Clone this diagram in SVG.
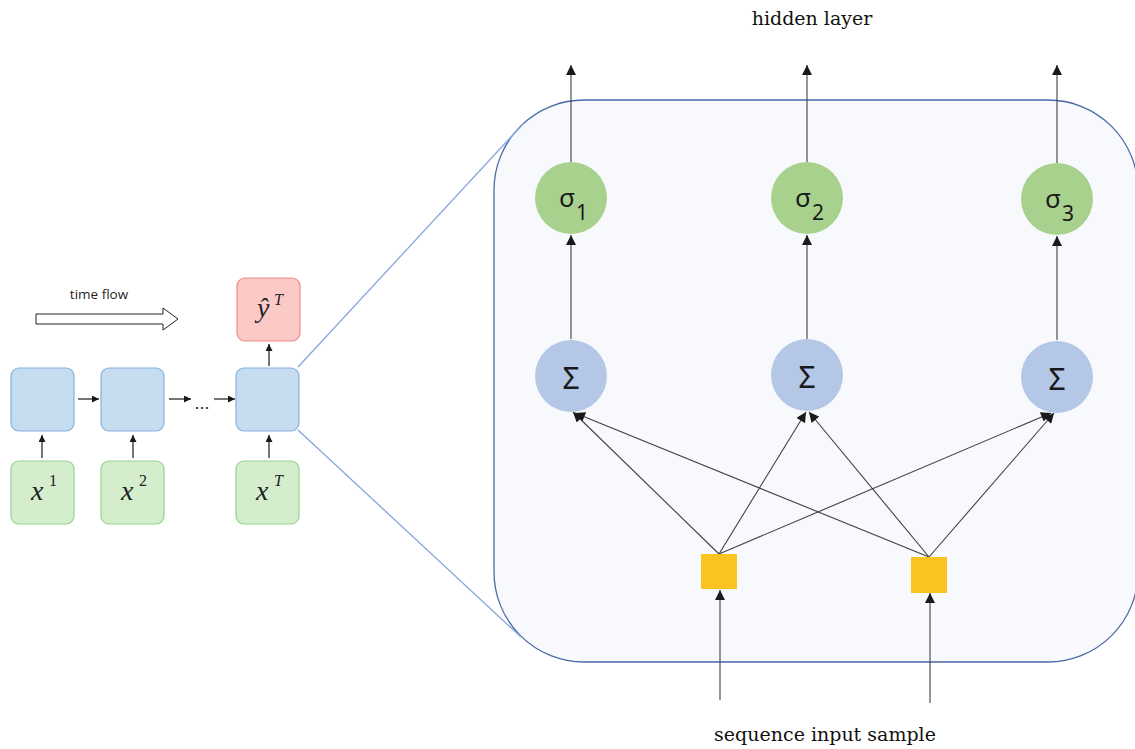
<svg xmlns="http://www.w3.org/2000/svg" width="1135" height="749" viewBox="0 0 1135 749">
  <defs>
    <marker id="ah" viewBox="0 0 10 10" refX="10" refY="5" markerWidth="11" markerHeight="10" markerUnits="userSpaceOnUse" orient="auto">
      <path d="M0,0 L10,5 L0,10 z" fill="#1a1a1a"/>
    </marker>
    <marker id="ahs" viewBox="0 0 10 10" refX="10" refY="5" markerWidth="7" markerHeight="7" markerUnits="userSpaceOnUse" orient="auto">
      <path d="M0,0 L10,5 L0,10 z" fill="#1a1a1a"/>
    </marker>
  </defs>
  <style>
    .cell { fill: #c6dcef; stroke: #86b2dd; stroke-width: 1.2; }
    .inp { fill: #d3edcd; stroke: #96d38d; stroke-width: 1.2; }
    .out { fill: #fbc9c6; stroke: #f08b85; stroke-width: 1.2; }
    .math { font-family: "Liberation Serif", "DejaVu Serif", serif; font-style: italic; fill: #222; font-size: 28px; }
    .sup { font-family: "Liberation Serif", "DejaVu Serif", serif; fill: #222; font-size: 16px; }
    .sig { fill: #a9d18e; }
    .sum { fill: #b4c7e7; }
    .lbl { font-family: "Open Sans", "DejaVu Sans", sans-serif; fill: #1f1f1f; text-anchor: middle; }
    .cap { font-family: "DejaVu Serif", "Liberation Serif", serif; fill: #111; text-anchor: middle; font-size: 19px; }
    .gk { font-family: "Noto Sans", "DejaVu Sans", sans-serif; fill: #1a1a1a; }
    .in { fill: #fac420; }
    .edge { stroke: #404040; stroke-width: 1.1; fill: none; marker-end: url(#ah); }
    .sedge { stroke: #1a1a1a; stroke-width: 1.2; fill: none; marker-end: url(#ahs); }
    .zoom { stroke: #86a6da; stroke-width: 1.3; fill: none; }
  </style>

  <!-- enlarged cell panel -->
  <g id="panel">
    <rect x="494" y="100" width="644" height="562" rx="90" ry="90" fill="#f7f9fc" stroke="#4b6aa8" stroke-width="1.3"/>
  </g>

  <!-- zoom guide lines from the last cell to the panel -->
  <g id="zoom-lines">
    <line class="zoom" x1="298" y1="367" x2="523" y2="124"/>
    <line class="zoom" x1="298" y1="430" x2="521" y2="637"/>
  </g>

  <!-- time flow hint -->
  <g id="time-flow">
    <text class="lbl" x="99" y="299" font-size="13.5">time flow</text>
    <path d="M36,314 L163,314 L163,308 L178,319 L163,330 L163,324 L36,324 z" fill="#fff" stroke="#222" stroke-width="1"/>
  </g>

  <!-- unrolled sequence -->
  <g id="cell1"><rect class="cell" x="11" y="368" width="63" height="63" rx="8"/></g>
  <g id="cell2"><rect class="cell" x="101" y="368" width="63" height="63" rx="8"/></g>
  <g id="cellT"><rect class="cell" x="236" y="368" width="63" height="63" rx="8"/></g>
  <g id="x1">
    <rect class="inp" x="11" y="461" width="63" height="63" rx="8"/>
    <text class="math" x="31" y="500">x</text><text class="sup" x="49" y="486">1</text>
  </g>
  <g id="x2">
    <rect class="inp" x="101" y="461" width="63" height="63" rx="8"/>
    <text class="math" x="121" y="500">x</text><text class="sup" x="139" y="486">2</text>
  </g>
  <g id="xT">
    <rect class="inp" x="236" y="461" width="63" height="63" rx="8"/>
    <text class="math" x="256" y="500">x</text><text class="sup" x="274" y="486" font-style="italic">T</text>
  </g>
  <g id="yT">
    <rect class="out" x="237" y="278" width="63" height="63" rx="8"/>
    <text class="math" x="257" y="317">ŷ</text>
    <text class="sup" x="274" y="305" font-style="italic">T</text>
  </g>
  <g id="dots">
    <text x="202" y="409" font-family="Liberation Sans, sans-serif" font-size="18" text-anchor="middle" fill="#222">...</text>
  </g>

  <g id="seq-connectors">
    <line class="sedge" x1="78" y1="399" x2="99" y2="399"/>
    <line class="sedge" x1="169" y1="399" x2="191" y2="399"/>
    <line class="sedge" x1="214" y1="399" x2="235" y2="399"/>
    <line class="sedge" x1="42" y1="458" x2="42" y2="435"/>
    <line class="sedge" x1="133" y1="458" x2="133" y2="435"/>
    <line class="sedge" x1="269" y1="458" x2="269" y2="435"/>
    <line class="sedge" x1="269" y1="366" x2="269" y2="344"/>
  </g>

  <!-- network connectors -->
  <g id="connectors">
    <!-- outputs -->
    <line class="edge" x1="571" y1="162" x2="571" y2="65"/>
    <line class="edge" x1="807" y1="162" x2="807" y2="65"/>
    <line class="edge" x1="1057" y1="163" x2="1057" y2="65"/>
    <!-- sum to activation -->
    <line class="edge" x1="571" y1="339" x2="571" y2="235"/>
    <line class="edge" x1="807" y1="339" x2="807" y2="235"/>
    <line class="edge" x1="1057" y1="340" x2="1057" y2="236"/>
    <!-- inputs to sums -->
    <line class="edge" x1="719" y1="554" x2="573" y2="412"/>
    <line class="edge" x1="719" y1="554" x2="806" y2="412"/>
    <line class="edge" x1="719" y1="554" x2="1051" y2="413"/>
    <line class="edge" x1="929" y1="557" x2="575" y2="413"/>
    <line class="edge" x1="929" y1="557" x2="809" y2="412"/>
    <line class="edge" x1="929" y1="557" x2="1054" y2="413"/>
    <!-- samples in -->
    <line class="edge" x1="720" y1="700" x2="720" y2="590"/>
    <line class="edge" x1="930" y1="703" x2="930" y2="593"/>
  </g>

  <g id="sigma1">
    <circle class="sig" cx="571" cy="198" r="36"/>
    <text class="gk" x="575" y="207" font-size="26" text-anchor="end">σ</text>
    <text class="gk" x="576" y="220" font-size="21">1</text>
  </g>
  <g id="sigma2">
    <circle class="sig" cx="807" cy="198" r="36"/>
    <text class="gk" x="811" y="207" font-size="26" text-anchor="end">σ</text>
    <text class="gk" x="812" y="220" font-size="21">2</text>
  </g>
  <g id="sigma3">
    <circle class="sig" cx="1057" cy="199" r="36"/>
    <text class="gk" x="1061" y="208" font-size="26" text-anchor="end">σ</text>
    <text class="gk" x="1062" y="221" font-size="21">3</text>
  </g>

  <g id="sum1">
    <circle class="sum" cx="571" cy="376" r="36"/>
    <text class="gk" x="571" y="389" font-size="30" text-anchor="middle">Σ</text>
  </g>
  <g id="sum2">
    <circle class="sum" cx="807" cy="375" r="36"/>
    <text class="gk" x="807" y="388" font-size="30" text-anchor="middle">Σ</text>
  </g>
  <g id="sum3">
    <circle class="sum" cx="1057" cy="377" r="36"/>
    <text class="gk" x="1057" y="390" font-size="30" text-anchor="middle">Σ</text>
  </g>

  <g id="input1"><rect class="in" x="701" y="554" width="36" height="35"/></g>
  <g id="input2"><rect class="in" x="911" y="557" width="36" height="36"/></g>

  <g id="labels">
    <text class="cap" x="812" y="25">hidden layer</text>
    <text class="cap" x="825" y="741">sequence input sample</text>
  </g>
</svg>
